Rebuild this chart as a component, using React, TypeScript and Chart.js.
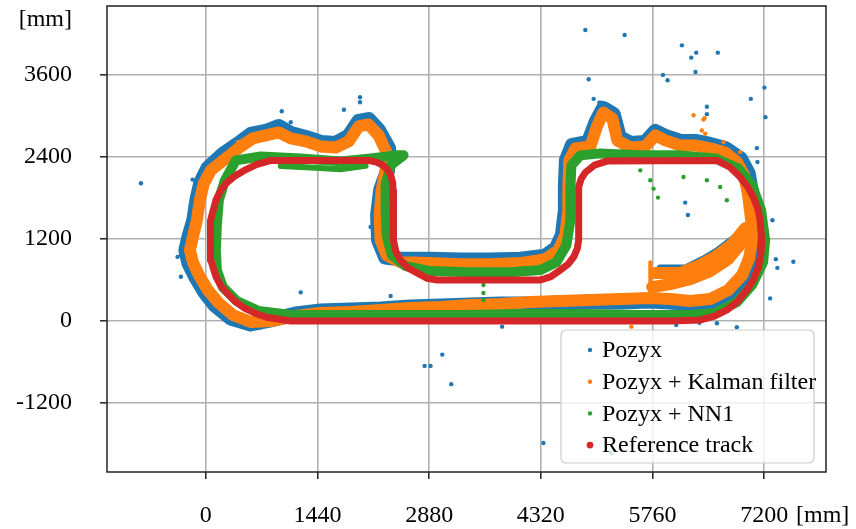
import React, { useEffect, useRef } from 'react';
import { Chart, registerables } from 'chart.js';
Chart.register(...registerables);

const FONT_FAMILY = '"Liberation Serif", "Times New Roman", serif';
const FONT = '24px ' + FONT_FAMILY;

const xTicks = [0, 1440, 2880, 4320, 5760, 7200];
const yTicks = [-1200, 0, 1200, 2400, 3600];
const seriesLabels = ['Pozyx', 'Pozyx + Kalman filter', 'Pozyx + NN1', 'Reference track'];
const seriesColors = ['#1f77b4', '#ff7f0e', '#2ca02c', '#d62728'];

// Reference track (mm)
const referenceTrack = [
  [1100, 0], [800, 50], [640, 110], [500, 190], [380, 285], [280, 400], [190, 520], [130, 650],
  [64, 890], [55, 1180], [64, 1470], [130, 1770], [185, 1900], [258, 2010], [360, 2110], [490, 2200],
  [650, 2290], [840, 2350], [2090, 2350], [2200, 2325], [2280, 2280], [2345, 2210], [2385, 2130],
  [2410, 2020], [2415, 1910], [2420, 1180], [2450, 1020], [2510, 890], [2600, 780], [2730, 700],
  [2850, 625], [2985, 600], [4315, 600], [4450, 650], [4570, 745], [4670, 830], [4745, 940],
  [4790, 1060], [4808, 1180], [4808, 1960], [4840, 2080], [4895, 2175], [5010, 2280], [5175, 2340],
  [6590, 2350], [6760, 2250], [6890, 2107], [6990, 1960], [7060, 1815], [7120, 1640], [7148, 1474],
  [7170, 1182], [7160, 990], [7127, 793], [7065, 610], [6977, 453], [6860, 290], [6720, 161],
  [6560, 70], [6380, 15], [6000, 0], [1100, 0],
];

// Pozyx raw: dense band + sparse outliers (mm)
const pozyxBand = [
  [425, 2599], [580, 2730], [773, 2774], [940, 2847], [1095, 2745], [1288, 2686], [1481, 2613],
  [1674, 2599], [1842, 2701], [1971, 2920], [2099, 2949], [2228, 2789], [2357, 2526], [2344, 2205],
  [2254, 1913], [2215, 1548], [2228, 1183], [2318, 934], [2512, 905], [2898, 905], [3284, 891],
  [3671, 891], [4057, 905], [4379, 949], [4521, 1066], [4598, 1256], [4637, 1621], [4637, 1986],
  [4650, 2351], [4727, 2570], [4933, 2613], [5036, 2920], [5126, 3110], [5255, 3022], [5332, 2686],
  [5474, 2599], [5667, 2613], [5796, 2774], [5925, 2701], [6118, 2628], [6311, 2628], [6504, 2584],
  [6698, 2526], [6891, 2380], [6994, 2161], [7045, 1840], [7084, 1475], [7097, 1183], [7045, 891],
  [6955, 642], [6762, 423], [6504, 277], [6247, 248], [5989, 277], [5732, 292], [5345, 277],
  [4959, 277], [4572, 263], [4186, 248], [3800, 248], [3413, 234], [3027, 219], [2640, 204],
  [2254, 175], [1868, 161], [1481, 146], [1159, 102], [837, 15], [580, -44], [322, 44], [116, 234],
  [-13, 423], [-129, 642], [-219, 847], [-258, 1037], [-219, 1226], [-155, 1475], [-116, 1767],
  [-64, 2029], [26, 2234], [219, 2438], [425, 2599],
];
const pozyxBlob = [[5860, 774], [6182, 774], [6414, 905], [6607, 1037], [6826, 1226]];
const pozyxOutliers = [
  [-837, 2015], [979, 3070], [1988, 3275], [1988, 3202], [1781, 3091], [1224, 419], [2125, 1377],
  [4894, 4259], [5401, 4186], [6140, 4034], [6324, 3927], [6260, 3854], [6603, 3927], [6315, 3645],
  [5895, 3602], [5955, 3523], [4937, 3537], [7204, 3416], [7028, 3251], [6462, 3135], [6462, 3027],
  [7217, 2983], [5001, 3251], [5075, 3193], [5096, 3193], [3049, -492], [2821, -657], [2898, -657],
  [3165, -924], [4353, -1786], [7577, 866], [7351, 905], [7371, 778], [7277, 331], [6182, 1733],
  [6217, 1552], [6792, 1110], [6642, 968], [7106, 2530], [7114, 2326], [7307, 1475], [-171, 2069],
  [-365, 939], [-322, 647], [708, -92], [944, 2886], [1095, 2910], [2383, 365], [3821, -83],
  [6066, -58], [6366, -25], [6591, -34], [6848, -92], [5225, -1932], [-322, 964], [-258, 1329],
  [-193, 1694], [-116, 1913], [-26, 2205], [-90, 2132], [6462, 818], [6160, 720], [6376, 793],
  [6011, 720], [6977, 1110], [6998, 1475],
];

// Pozyx + Kalman filter (mm)
const kalmanBand = [
  [258, 2380], [451, 2555], [605, 2672], [773, 2716], [940, 2760], [1095, 2672], [1288, 2628],
  [1481, 2555], [1674, 2540], [1842, 2628], [1971, 2847], [2099, 2876], [2228, 2716], [2331, 2467],
  [2318, 2205], [2267, 1913], [2241, 1548], [2254, 1183], [2331, 964], [2512, 861], [2898, 847],
  [3284, 832], [3671, 832], [4057, 847], [4379, 905], [4547, 1037], [4637, 1256], [4675, 1621],
  [4675, 1986], [4688, 2351], [4766, 2526], [4959, 2555], [5049, 2862], [5126, 3051], [5242, 2964],
  [5307, 2643], [5474, 2540], [5667, 2555], [5796, 2716], [5925, 2643], [6118, 2570], [6311, 2570],
  [6504, 2526], [6698, 2467], [6852, 2321], [6942, 2132], [6994, 1840], [7033, 1475], [7045, 1183],
  [7007, 920], [6916, 672], [6736, 453], [6504, 321], [6247, 292], [5989, 321], [5732, 336],
  [5345, 321], [4959, 307], [4572, 292], [4186, 277], [3800, 248], [3413, 234], [3027, 204],
  [2640, 190], [2254, 161], [1868, 131], [1481, 117], [1159, 73], [837, 0], [580, -15], [348, 88],
  [167, 263], [26, 453], [-90, 672], [-167, 861], [-206, 1037], [-167, 1226], [-116, 1475],
  [-77, 1767], [-26, 2015], [64, 2205], [258, 2380],
];
const kalmanBlob = [[5757, 496], [5989, 540], [6247, 613], [6504, 730], [6736, 905], [6916, 1153]];
const kalmanBlobUpper = [[5796, 701], [6118, 701], [6376, 818], [6582, 949], [6788, 1124], [6955, 1358]];
const kalmanStreak = [[5732, 861], [5732, 307]];
const kalmanOutliers = [
  [6290, 3012], [6431, 2968], [6418, 2949], [6397, 2789], [6440, 2740], [6676, 2618], [6891, 2472],
  [5487, -83], [416, 2618],
];

// Pozyx + NN1 (mm)
const nn1Band = [
  [387, 2351], [708, 2409], [1224, 2380], [1739, 2336], [2125, 2380], [2447, 2424], [2550, 2424],
  [2383, 2278], [2318, 1986], [2318, 1621], [2331, 1256], [2396, 964], [2576, 803], [2898, 730],
  [3413, 715], [3928, 715], [4315, 745], [4521, 861], [4650, 1110], [4701, 1475], [4701, 1913],
  [4714, 2278], [4830, 2424], [5088, 2453], [5603, 2424], [6118, 2424], [6569, 2380], [6865, 2234],
  [7045, 1986], [7161, 1621], [7213, 1183], [7187, 861], [7045, 526], [6852, 277], [6569, 117],
  [6247, 88], [5603, 88], [4830, 102], [4057, 102], [3284, 88], [2512, 88], [1739, 88], [1095, 88],
  [683, 146], [399, 292], [219, 496], [142, 745], [129, 1037], [142, 1402], [167, 1767], [245, 2059],
  [387, 2351],
];
const nn1Inner = [[966, 2270], [1352, 2245], [1739, 2220], [2061, 2270]];
const nn1Outliers = [
  [5831, 1806], [6719, 1767], [5774, 1937], [3580, 526], [3580, 409], [3580, 307], [5603, 2205],
  [5732, 2059], [6160, 2107], [6462, 2059], [6633, 1961],
];

const toXY = (arr: number[][]) => arr.map(([x, y]) => ({ x, y }));

const band = (data: number[][], color: string, width: number, order: number) => ({
  data: toXY(data),
  showLine: true,
  borderColor: color,
  backgroundColor: color,
  borderWidth: width,
  borderJoinStyle: 'round',
  borderCapStyle: 'round',
  pointRadius: 0,
  fill: false,
  tension: 0,
  order,
});

const dots = (data: number[][], color: string, order: number) => ({
  data: toXY(data),
  showLine: false,
  backgroundColor: color,
  borderColor: color,
  borderWidth: 0,
  pointRadius: 2.2,
  order,
});

const overlayPlugin = {
  id: 'overlay',
  afterDraw(chart: any) {
    const ctx = chart.ctx;
    const ca = chart.chartArea;
    ctx.save();
    ctx.strokeStyle = '#222';
    ctx.lineWidth = 1.5;
    ctx.strokeRect(ca.left, ca.top, ca.right - ca.left, ca.bottom - ca.top);

    ctx.font = FONT;
    ctx.fillStyle = '#000';
    ctx.textBaseline = 'middle';
    ctx.textAlign = 'right';
    ctx.fillText('[mm]', 72, 20);
    ctx.textAlign = 'left';
    ctx.fillText('[mm]', 796, 516);

    // legend box
    const right = ca.right - 12;
    const bottom = ca.bottom - 9;
    const left = right - 253;
    const top = bottom - 133;
    const r = 5;
    ctx.beginPath();
    ctx.moveTo(left + r, top);
    ctx.lineTo(right - r, top);
    ctx.arcTo(right, top, right, top + r, r);
    ctx.lineTo(right, bottom - r);
    ctx.arcTo(right, bottom, right - r, bottom, r);
    ctx.lineTo(left + r, bottom);
    ctx.arcTo(left, bottom, left, bottom - r, r);
    ctx.lineTo(left, top + r);
    ctx.arcTo(left, top, left + r, top, r);
    ctx.closePath();
    ctx.fillStyle = 'rgba(255,255,255,0.8)';
    ctx.fill();
    ctx.strokeStyle = '#cccccc';
    ctx.lineWidth = 1.2;
    ctx.stroke();

    seriesLabels.forEach((label, i) => {
      const y = top + 20 + i * 31.7;
      ctx.beginPath();
      ctx.fillStyle = seriesColors[i];
      ctx.arc(left + 29, y, i === 3 ? 3.4 : 2.2, 0, Math.PI * 2);
      ctx.fill();
      ctx.fillStyle = '#000';
      ctx.textAlign = 'left';
      ctx.textBaseline = 'middle';
      ctx.fillText(label, left + 41, y + 1);
    });
    ctx.restore();
  },
};

export default function App() {
  const ref = useRef<HTMLCanvasElement | null>(null);
  useEffect(() => {
    if (!ref.current) return;
    const [blue, orange, green, red] = seriesColors;
    const chart = new Chart(ref.current, {
      type: 'scatter',
      data: {
        datasets: [
          { ...band(referenceTrack, red, 7, 0), label: seriesLabels[3] },
          { ...band(nn1Band, green, 10, 1), label: seriesLabels[2] },
          band(nn1Inner, green, 6, 1),
          dots(nn1Outliers, green, 1),
          { ...band(kalmanBand, orange, 12, 2), label: seriesLabels[1] },
          band(kalmanBlob, orange, 12, 2),
          band(kalmanBlobUpper, orange, 12, 2),
          band(kalmanStreak, orange, 4, 2),
          dots(kalmanOutliers, orange, 2),
          { ...band(pozyxBand, blue, 15, 3), label: seriesLabels[0] },
          band(pozyxBlob, blue, 7, 3),
          dots(pozyxOutliers, blue, 3),
        ] as any,
      },
      options: {
        animation: false,
        responsive: false,
        events: [],
        layout: { padding: { left: 0, top: 6, right: 30, bottom: 0 } },
        plugins: { legend: { display: false }, tooltip: { enabled: false } },
        scales: {
          x: {
            type: 'linear',
            min: -1275,
            max: 7998,
            z: 1,
            afterFit: (s: any) => { s.height = 57; s.paddingLeft = 0; s.paddingRight = 0; },
            afterBuildTicks: (s: any) => { s.ticks = xTicks.map((v) => ({ value: v })); },
            ticks: {
              callback: (v: any) => String(v),
              font: { family: FONT_FAMILY, size: 24 },
              color: '#000',
              padding: 22,
              maxRotation: 0,
              autoSkip: false,
            },
            grid: { color: '#b0b0b0', lineWidth: 1.6, tickLength: 7, tickColor: '#222', tickWidth: 1.5 },
            border: { display: false },
          },
          y: {
            type: 'linear',
            min: -2210,
            max: 4610,
            z: 1,
            afterFit: (s: any) => { s.width = 107; s.paddingTop = 0; s.paddingBottom = 0; },
            afterBuildTicks: (s: any) => { s.ticks = yTicks.map((v) => ({ value: v })); },
            ticks: {
              callback: (v: any) => String(v),
              font: { family: FONT_FAMILY, size: 24 },
              color: '#000',
              padding: 28,
              autoSkip: false,
            },
            grid: { color: '#b0b0b0', lineWidth: 1.6, tickLength: 7, tickColor: '#222', tickWidth: 1.5 },
            border: { display: false },
          },
        },
      } as any,
      plugins: [overlayPlugin],
    });
    return () => chart.destroy();
  }, []);
  return (
    <div style={{ position: 'fixed', left: 0, top: 0, width: 856, height: 529, background: '#fff' }}>
      <canvas ref={ref} width={856} height={529} />
    </div>
  );
}
